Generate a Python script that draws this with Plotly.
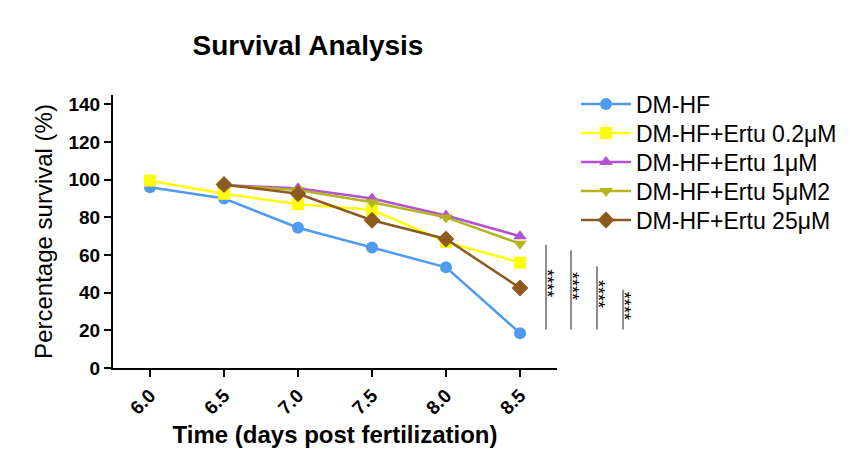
import plotly.graph_objects as go

time_points = [6.0, 6.5, 7.0, 7.5, 8.0, 8.5]
dm_hf = [96, 90, 74.5, 64, 53.5, 18.5]
ertu_02 = [99.5, 92.5, 87, 84, 67, 56]
ertu_1 = [None, 97, 95.5, 90, 81, 70]
ertu_5 = [None, 97, 94.5, 88, 80, 66]
ertu_25 = [None, 97.5, 92.5, 78.5, 68.5, 42.5]

series_names = ["DM-HF", "DM-HF+Ertu 0.2μM", "DM-HF+Ertu 1μM", "DM-HF+Ertu 5μM2", "DM-HF+Ertu 25μM"]
series_values = [dm_hf, ertu_02, ertu_1, ertu_5, ertu_25]
colors = ["#4F9BF0", "#FFFF00", "#B452D2", "#B4B41E", "#8C5A1E"]
symbols = ["circle", "square", "triangle-up", "triangle-down", "diamond"]
sizes = [12, 12, 12, 12, 13]

# significance brackets: (y_low, y_high) in data units
sig_ranges = [(20.5, 65.5), (20.5, 62.5), (20.5, 54), (20.5, 41.5)]
sig_labels = ["****", "****", "****", "****"]

OFF = 0  # page body margin removed via post_script
L, R, T, B = 113 - OFF, 850 - 557 + OFF, 95 - OFF, 454 - 368 + OFF
pw = 850 - L - R
ph = 454 - T - B


def px_x(sx):
    return (sx - OFF - L) / pw


def px_y(sy):
    return 1 - (sy - OFF - T) / ph


fig = go.Figure()
legend_ids = ["legend", "legend2", "legend3", "legend4", "legend5"]
for name, vals, c, s, sz, lg in zip(series_names, series_values, colors, symbols, sizes, legend_ids):
    xs = [t for t, v in zip(time_points, vals) if v is not None]
    ys = [v for v in vals if v is not None]
    fig.add_trace(go.Scatter(
        x=xs, y=ys, name=name, mode="lines+markers", legend=lg,
        line=dict(color=c, width=2.5),
        marker=dict(color=c, symbol=s, size=sz),
    ))

line_px = [546, 571, 597, 623]
star_px = [559, 584, 610, 636]
shapes = []
annotations = []
for (lo, hi), lx, sx, lab in zip(sig_ranges, line_px, star_px, sig_labels):
    xp = px_x(lx)
    shapes.append(dict(type="line", xref="paper", yref="y", x0=xp, x1=xp, y0=lo, y1=hi,
                       line=dict(color="#444444", width=1.2)))
    annotations.append(dict(xref="paper", yref="y", x=px_x(sx), y=(lo + hi) / 2 + 2,
                            text=lab, showarrow=False, textangle=90,
                            font=dict(size=18, color="black", family="Liberation Sans")))

legend_layout = {}
for i, lg in enumerate(legend_ids):
    cy = 104 + 29 * i
    legend_layout[lg] = dict(x=px_x(576), y=px_y(cy), xanchor="left", yanchor="middle",
                             font=dict(size=23, color="black"), itemwidth=50,
                             bgcolor="rgba(0,0,0,0)", borderwidth=0)

fig.update_layout(
    width=850, height=454,
    margin=dict(l=L, r=R, t=T, b=B, autoexpand=False),
    paper_bgcolor="white", plot_bgcolor="white",
    font=dict(family="Liberation Sans, Arial", color="black"),
    title=dict(text="<b>Survival Analysis</b>", x=(310 - 2 - OFF) / 850, xanchor="center",
               y=1 - (45 - OFF) / 454, yanchor="middle", font=dict(size=28, color="black")),
    showlegend=True,
    shapes=shapes,
    annotations=annotations,
    **legend_layout,
)
fig.update_xaxes(
    range=[5.75, 8.75], tickvals=time_points, ticktext=["<b>%.1f</b>" % t for t in time_points],
    tickangle=-45, ticks="outside", ticklen=7, tickwidth=2, tickcolor="black",
    showline=True, linecolor="black", linewidth=2, showgrid=False, zeroline=False,
    tickfont=dict(size=19, color="black", family="Liberation Sans"), automargin=False,
    title=dict(text="<b>Time (days post fertilization)</b>", font=dict(size=24), standoff=9),
)
fig.update_yaxes(
    range=[0, 145], tickvals=[0, 20, 40, 60, 80, 100, 120, 140],
    ticktext=["<b>%d</b>" % v for v in [0, 20, 40, 60, 80, 100, 120, 140]],
    ticks="outside", ticklen=7, tickwidth=2, tickcolor="black",
    showline=True, linecolor="black", linewidth=2, showgrid=False, zeroline=False,
    tickfont=dict(size=19, color="black", family="Liberation Sans"), automargin=False,
    title=dict(text="Percentage survival (%)", font=dict(size=24), standoff=9),
)

fig.write_html("out.html", config={"displayModeBar": False},
               post_script="document.body.style.margin='0';")
